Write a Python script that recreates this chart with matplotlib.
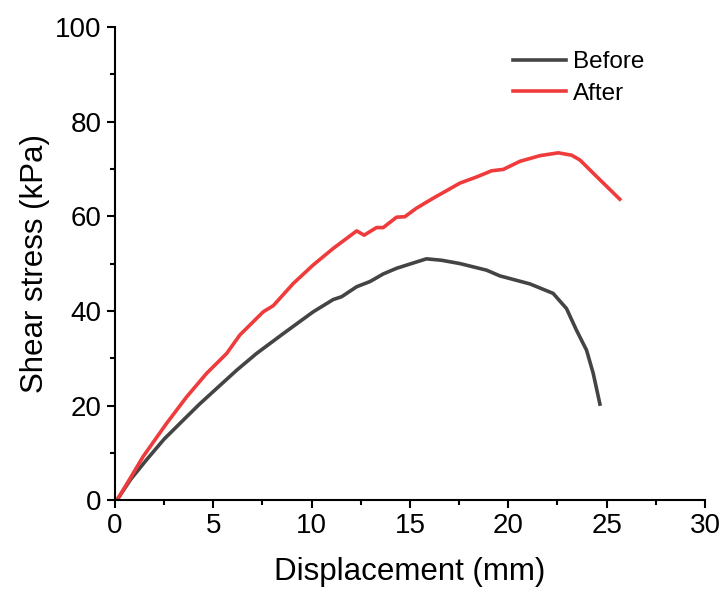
import numpy as np
import matplotlib
matplotlib.use("Agg")
import matplotlib.pyplot as plt
from matplotlib.ticker import MultipleLocator

# ____________________________________________________________
# data (displacement in mm, stress in kPa)

before_x = [0.1, 0.8, 1.6, 2.5, 3.47, 4.3, 5.17, 6.2, 7.2, 8.56, 10.08, 11.1, 11.53,
            12.29, 12.97, 13.64, 14.32, 15.0, 15.84, 16.6, 17.54, 18.9, 19.57,
            21.1, 22.28, 22.96, 23.47, 23.98, 24.32, 24.66]
before_y = [0.0, 4.4, 8.5, 12.9, 16.9, 20.3, 23.6, 27.5, 31.0, 35.2, 39.8, 42.4, 43.0,
            45.1, 46.2, 47.8, 49.0, 49.9, 51.0, 50.7, 50.0, 48.6, 47.4,
            45.7, 43.7, 40.5, 35.9, 31.7, 26.8, 20.3]

after_x = [0.1, 0.8, 1.43, 2.62, 3.64, 4.66, 5.68, 6.35, 7.54, 8.05, 9.07, 10.08,
           11.1, 12.29, 12.67, 13.3, 13.64, 14.32, 14.74, 15.33, 16.18, 17.54,
           18.39, 19.15, 19.75, 20.59, 21.61, 22.54, 23.22, 23.64, 24.49, 25.67]
after_y = [0.0, 4.8, 9.2, 16.2, 21.8, 26.8, 31.0, 34.9, 39.8, 41.1, 45.8, 49.7,
           53.2, 56.9, 56.0, 57.6, 57.6, 59.8, 59.9, 61.7, 63.8, 67.0,
           68.3, 69.6, 69.9, 71.6, 72.8, 73.4, 72.9, 71.9, 68.4, 63.6]

# ____________________________________________________________
# plot

plt.rcParams['font.family'] = ['Liberation Sans', 'DejaVu Sans']

fig = plt.figure(figsize=(7.23, 5.99), dpi=100)
ax = fig.add_axes([0.159, 0.165, 0.816, 0.79])

ax.plot(before_x, before_y, color='#444444', lw=2.6, label='Before')
ax.plot(after_x, after_y, color='#ef3b3b', lw=2.6, label='After')

ax.set_xlim(0, 30)
ax.set_ylim(0, 100)
ax.xaxis.set_major_locator(MultipleLocator(5))
ax.xaxis.set_minor_locator(MultipleLocator(2.5))
ax.yaxis.set_major_locator(MultipleLocator(20))
ax.yaxis.set_minor_locator(MultipleLocator(10))

for s in ['top', 'right']:
    ax.spines[s].set_visible(False)
for s in ['left', 'bottom']:
    ax.spines[s].set_linewidth(1.5)
ax.tick_params(which='major', direction='out', length=6, width=1.5, labelsize=20)
ax.tick_params(which='minor', direction='out', length=3.5, width=1.5)

ax.set_xlabel('Displacement (mm)', fontsize=22.5, labelpad=13)
ax.set_ylabel('Shear stress (kPa)', fontsize=22.5, labelpad=4)

ax.legend(loc='upper right', bbox_to_anchor=(0.935, 0.995), frameon=False,
          fontsize=17.5, handlelength=2.2, handletextpad=0.3, labelspacing=0.4)

fig.savefig('out.png', dpi=100)
